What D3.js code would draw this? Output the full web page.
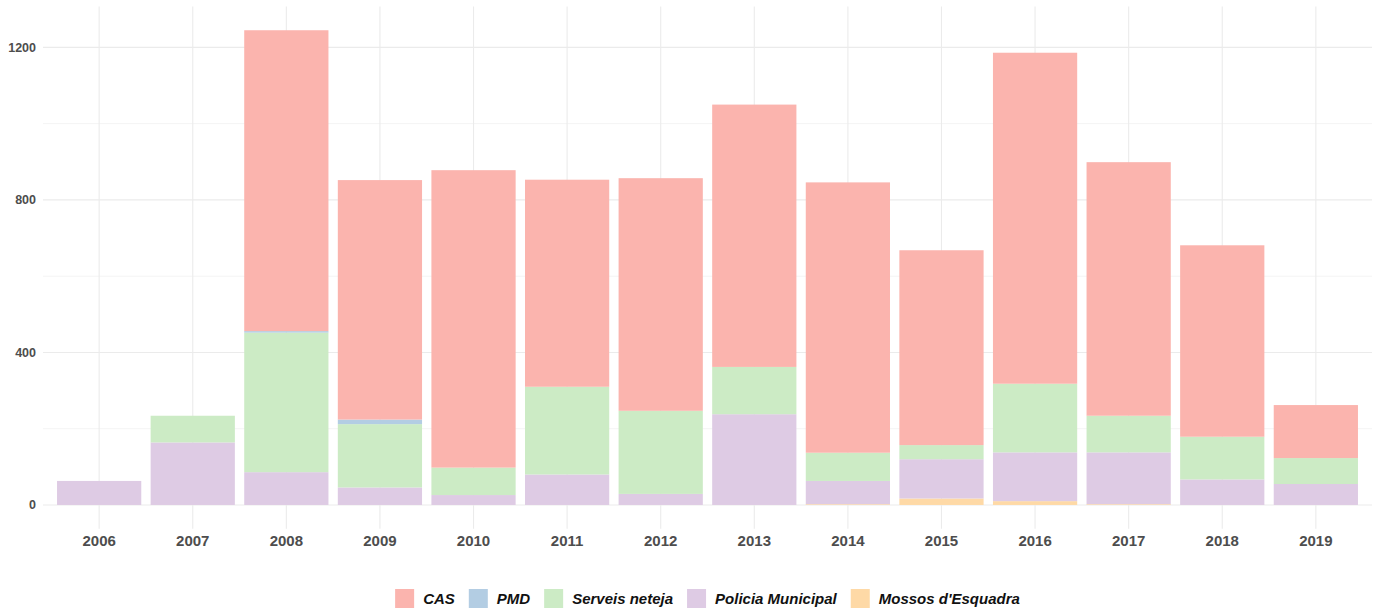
<!DOCTYPE html>
<html>
<head>
<meta charset="utf-8">
<script src="https://cdn.jsdelivr.net/npm/d3@7"></script>
<style>
  body { margin: 0; background: #fff; }
  svg { display: block; font-family: "Liberation Sans", Arial, sans-serif; }
</style>
</head>
<body>
<figure id="bar" style="margin:0"></figure>
<script>
// data
const years = ['2006', '2007', '2008', '2009', '2010', '2011', '2012', '2013', '2014', '2015', '2016', '2017', '2018', '2019'];
const mossos = [0, 0, 0, 0, 0, 0, 0, 0, 2, 17, 10, 2, 0, 0];
const policia = [63, 164, 86, 46, 26, 80, 29, 238, 61, 103, 128, 136, 67, 55];
const serveis = [0, 70, 366, 166, 72, 230, 218, 124, 74, 37, 180, 96, 112, 68];
const pmd = [0, 0, 4, 12, 0, 0, 0, 0, 0, 0, 0, 0, 0, 0];
const cas = [0, 0, 789, 628, 780, 543, 610, 688, 709, 511, 868, 665, 502, 139];
const yTicks = [0, 400, 800, 1200];
const yMinor = [200, 600, 1000];

// stacked from the bottom up
const keys = ['Mossos d\'Esquadra', 'Policia Municipal', 'Serveis neteja', 'PMD', 'CAS'];
const colors = ['#FED9A6', '#DECBE4', '#CCEBC5', '#B3CDE3', '#FBB4AE'];
const legendKeys = ['CAS', 'PMD', 'Serveis neteja', 'Policia Municipal', 'Mossos d\'Esquadra'];

const width = 1378, height = 610;
const panel = {left: 43, right: 1372, top: 6.5, bottom: 528.7};

const rows = years.map((y, i) => ({
  year: y,
  'Mossos d\'Esquadra': mossos[i],
  'Policia Municipal': policia[i],
  'Serveis neteja': serveis[i],
  'PMD': pmd[i],
  'CAS': cas[i],
}));

const series = d3.stack().keys(keys)(rows);
const maxTotal = d3.max(series[series.length - 1], d => d[1]);

const color = d3.scaleOrdinal().domain(keys).range(colors);

// ggplot-like expansion: 5% on y, 0.6 band on x
const y = d3.scaleLinear()
    .domain([-maxTotal * 0.05, maxTotal * 1.05])
    .range([panel.bottom, panel.top]);

const step = (panel.right - panel.left) / (years.length - 1 + 1.2);
const x = d3.scaleBand()
    .domain(years)
    .range([panel.left + 0.6 * step - step / 2, panel.right - 0.6 * step + step / 2])
    .paddingInner(0.1)
    .paddingOuter(0.05);

const svg = d3.select('figure#bar')
    .append('svg')
    .attr('width', width)
    .attr('height', height);

// grid
const grid = svg.append('g');
grid.selectAll('.minor')
    .data(yMinor)
    .enter()
    .append('line')
    .attr('x1', panel.left).attr('x2', panel.right)
    .attr('y1', d => y(d)).attr('y2', d => y(d))
    .attr('stroke', '#f4f4f4')
    .attr('stroke-width', 1);
grid.selectAll('.major')
    .data(yTicks)
    .enter()
    .append('line')
    .attr('x1', panel.left).attr('x2', panel.right)
    .attr('y1', d => y(d)).attr('y2', d => y(d))
    .attr('stroke', '#ebebeb')
    .attr('stroke-width', 1.1);
grid.selectAll('.vert')
    .data(years)
    .enter()
    .append('line')
    .attr('x1', d => x(d) + x.bandwidth() / 2).attr('x2', d => x(d) + x.bandwidth() / 2)
    .attr('y1', panel.top).attr('y2', panel.bottom)
    .attr('stroke', '#ebebeb')
    .attr('stroke-width', 1.1);

// bars
svg.append('g')
    .selectAll('g')
    .data(series)
    .enter()
    .append('g')
    .attr('fill', d => color(d.key))
    .selectAll('rect')
    .data(d => d)
    .enter()
    .append('rect')
    .attr('x', d => x(d.data.year))
    .attr('y', d => y(d[1]))
    .attr('width', x.bandwidth())
    .attr('height', d => y(d[0]) - y(d[1]));

// y axis
const yAxis = svg.append('g')
    .attr('transform', 'translate(' + panel.left + ',0)')
    .call(d3.axisLeft(y).tickValues(yTicks).tickFormat(d3.format('d')).tickSize(0).tickPadding(7));
yAxis.select('.domain').remove();
yAxis.selectAll('text')
    .attr('fill', '#4d4d4d')
    .style('font-size', '12.5px')
    .style('font-weight', 'bold');

// x axis
const xAxis = svg.append('g')
    .attr('transform', 'translate(0,' + panel.bottom + ')')
    .call(d3.axisBottom(x).tickSize(0).tickPadding(7));
xAxis.select('.domain').remove();
xAxis.selectAll('text')
    .attr('fill', '#4d4d4d')
    .style('font-size', '15px')
    .style('font-weight', 'bold');

// legend
const legend = svg.append('g').attr('transform', 'translate(0,589)');
const keySize = 19;
const gap = 9;
const itemGap = 14;
const tmp = legend.append('text').style('font-size', '15px').style('font-weight', 'bold').style('font-style', 'italic');
const widths = legendKeys.map(k => { tmp.text(k); return tmp.node().getComputedTextLength(); });
tmp.remove();
const totalW = d3.sum(widths) + legendKeys.length * (keySize + gap) + (legendKeys.length - 1) * itemGap;
let lx = (panel.left + panel.right) / 2 - totalW / 2;
legendKeys.forEach((k, i) => {
  const item = legend.append('g').attr('transform', 'translate(' + lx + ',0)');
  item.append('rect')
      .attr('width', keySize).attr('height', keySize)
      .attr('fill', color(k));
  item.append('text')
      .attr('x', keySize + gap)
      .attr('y', keySize / 2)
      .attr('dy', '0.35em')
      .attr('fill', '#111')
      .style('font-size', '15px')
      .style('font-weight', 'bold')
      .style('font-style', 'italic')
      .text(k);
  lx += keySize + gap + widths[i] + itemGap;
});
</script>
</body>
</html>
